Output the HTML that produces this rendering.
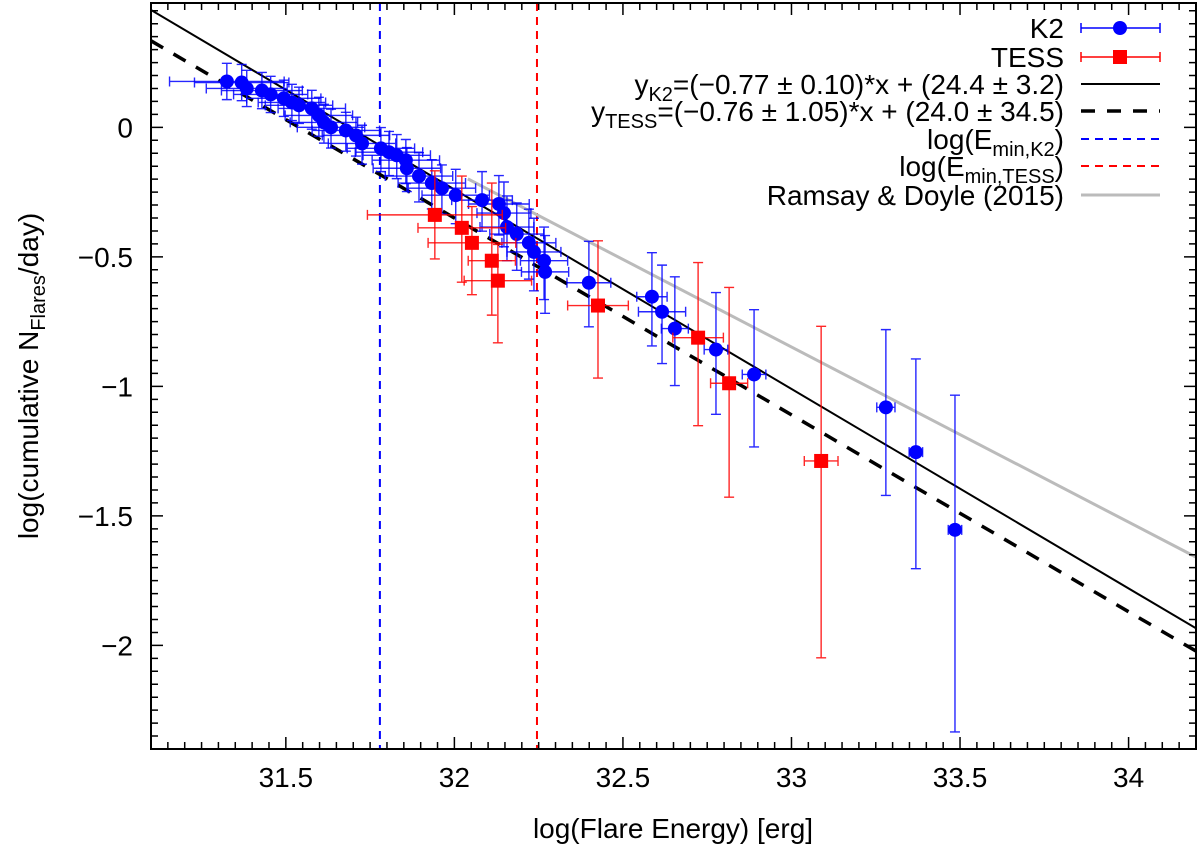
<!DOCTYPE html>
<html><head><meta charset="utf-8"><style>
html,body{margin:0;padding:0;background:#fff;}
svg{display:block;font-family:"Liberation Sans",Arial,sans-serif;}
</style></head><body>
<svg id="chart" width="1200" height="850" viewBox="0 0 1200 850" xmlns="http://www.w3.org/2000/svg">
<defs><clipPath id="clip"><rect x="151" y="3" width="1045" height="746"/></clipPath></defs>
<g id="marks" clip-path="url(#clip)"></g>
<g id="axes"></g>
<g id="legend"></g>
</svg>
<script>
const k2x=[31.325,31.369,31.384,31.429,31.455,31.494,31.518,31.539,31.577,31.598,31.613,31.634,31.678,31.708,31.726,31.782,31.806,31.829,31.856,31.859,31.895,31.933,31.963,32.004,32.082,32.132,32.147,32.156,32.185,32.221,32.236,32.266,32.269,32.399,32.586,32.616,32.654,32.776,32.889,33.280,33.369,33.485];
const k2y=[0.177,0.173,0.150,0.142,0.127,0.112,0.096,0.085,0.073,0.046,0.019,0.000,-0.012,-0.031,-0.062,-0.081,-0.096,-0.108,-0.127,-0.158,-0.188,-0.215,-0.235,-0.262,-0.281,-0.296,-0.331,-0.385,-0.412,-0.446,-0.481,-0.515,-0.558,-0.600,-0.654,-0.712,-0.777,-0.858,-0.954,-1.081,-1.254,-1.554];
const k2xerr=[0.17,0.14,0.12,0.12,0.11,0.11,0.1,0.1,0.1,0.1,0.1,0.1,0.1,0.1,0.1,0.1,0.1,0.1,0.1,0.1,0.1,0.1,0.1,0.1,0.09,0.09,0.08,0.08,0.08,0.08,0.08,0.07,0.07,0.065,0.045,0.07,0.04,0.035,0.035,0.027,0.02,0.02];
const k2ylo=[0.07,0.07,0.07,0.07,0.07,0.07,0.07,0.07,0.08,0.08,0.08,0.08,0.08,0.08,0.08,0.09,0.09,0.09,0.09,0.09,0.1,0.1,0.1,0.11,0.12,0.12,0.13,0.13,0.14,0.14,0.15,0.15,0.16,0.17,0.19,0.2,0.22,0.25,0.28,0.34,0.45,0.78];
const k2yhi=[0.07,0.07,0.07,0.07,0.07,0.07,0.07,0.07,0.07,0.07,0.07,0.07,0.07,0.07,0.07,0.08,0.08,0.08,0.08,0.08,0.09,0.09,0.09,0.1,0.11,0.11,0.12,0.12,0.12,0.13,0.13,0.13,0.14,0.16,0.17,0.18,0.2,0.22,0.25,0.3,0.36,0.52];
const tsx=[31.942,32.022,32.052,32.111,32.129,32.426,32.723,32.815,33.088];
const tsy=[-0.338,-0.388,-0.446,-0.515,-0.592,-0.688,-0.812,-0.988,-1.288];
const tsxerr=[0.2,0.13,0.13,0.07,0.1,0.09,0.075,0.055,0.05];
const tsylo=[0.17,0.21,0.2,0.21,0.24,0.28,0.34,0.44,0.76];
const tsyhi=[0.17,0.2,0.14,0.3,0.14,0.25,0.29,0.37,0.52];
const fitK2=[-0.77,24.4];
const fitTESS=[-0.76,23.97];
const ramsay=[-0.676,21.46,32.04];
const eminK2=31.779, eminTESS=32.245;
const xTicks=[31.5,32,32.5,33,33.5,34];
const xTickLabels=["31.5","32","32.5","33","33.5","34"];
const yTicks=[0,-0.5,-1,-1.5,-2];
const yTickLabels=["0","\u22120.5","\u22121","\u22121.5","\u22122"];

const L=151,R=1196,T=3,B=749,X0=31.1,X1=34.2,Y0=-2.4,Y1=0.48;
const sx=v=>L+(v-X0)/(X1-X0)*(R-L);
const sy=v=>B-(v-Y0)/(Y1-Y0)*(B-T);
const NS="http://www.w3.org/2000/svg";
function mk(parent,tag,attrs,text){const e=document.createElementNS(NS,tag);for(const k in attrs)e.setAttribute(k,attrs[k]);if(text!==undefined)e.textContent=text;parent.appendChild(e);return e;}
const marks=document.getElementById('marks'),axes=document.getElementById('axes'),legend=document.getElementById('legend');

let l=mk(marks,'line',{x1:sx(eminK2),x2:sx(eminK2),y1:T,y2:B,stroke:'#0000ff','stroke-width':2,'stroke-dasharray':'8,6'});


l=mk(marks,'line',{x1:sx(eminTESS),x2:sx(eminTESS),y1:T,y2:B,stroke:'#ff0000','stroke-width':2,'stroke-dasharray':'8,6'});


l=mk(marks,'line',{x1:sx(ramsay[2]),y1:sy(ramsay[0]*ramsay[2]+ramsay[1]),x2:sx(X1),y2:sy(ramsay[0]*X1+ramsay[1]),stroke:'#bbbbbb','stroke-width':3});


l=mk(marks,'line',{x1:sx(X0),y1:sy(fitK2[0]*X0+fitK2[1]),x2:sx(X1),y2:sy(fitK2[0]*X1+fitK2[1]),stroke:'#000','stroke-width':2});


l=mk(marks,'line',{x1:sx(X0),y1:sy(fitTESS[0]*X0+fitTESS[1]),x2:sx(X1),y2:sy(fitTESS[0]*X1+fitTESS[1]),stroke:'#000','stroke-width':3.5,'stroke-dasharray':'14,12'});



function errbar(g,x,y,xe,ylo,yhi,col){
  const cx=sx(x),cy=sy(y),a=sx(x-xe),b=sx(x+xe),t=sy(y+yhi),u=sy(y-ylo);
  mk(g,'path',{d:`M${a},${cy}H${b}M${a},${cy-5}V${cy+5}M${b},${cy-5}V${cy+5}M${cx},${t}V${u}M${cx-5},${t}H${cx+5}M${cx-5},${u}H${cx+5}`,stroke:col,'stroke-width':1.4,fill:'none','stroke-opacity':0.85});
}
for(let i=0;i<k2x.length;i++){
  const g=mk(marks,'g',{});
  
  
  errbar(g,k2x[i],k2y[i],k2xerr[i],k2ylo[i],k2yhi[i],'#0000ff');
  mk(g,'circle',{cx:sx(k2x[i]),cy:sy(k2y[i]),r:7,fill:'#0000ff'});
}
for(let i=0;i<tsx.length;i++){
  const g=mk(marks,'g',{});
  
  
  errbar(g,tsx[i],tsy[i],tsxerr[i],tsylo[i],tsyhi[i],'#ff0000');
  mk(g,'rect',{x:sx(tsx[i])-7,y:sy(tsy[i])-7,width:14,height:14,fill:'#ff0000'});
}

let d='';
for(let v=31.15;v<34.2;v+=0.05){const x=sx(v);const major=Math.abs(v*2-Math.round(v*2))<1e-6;const len=major?12:7;d+=`M${x},${B}V${B-len}M${x},${T}V${T+len}`;}
for(let v=-2.35;v<0.48;v+=0.05){const y=sy(v);const major=Math.abs(v*2-Math.round(v*2))<1e-6;const len=major?12:7;d+=`M${L},${y}H${L+len}M${R},${y}H${R-len}`;}
let p=mk(axes,'path',{d:d,stroke:'#000','stroke-width':1.5,fill:'none'});


let fr=mk(axes,'rect',{x:L,y:T,width:R-L,height:B-T,fill:'none',stroke:'#000','stroke-width':2});


xTicks.forEach((v,i)=>{const t=mk(axes,'text',{x:sx(v),y:787,'font-size':28,'text-anchor':'middle'},xTickLabels[i]);

});
yTicks.forEach((v,i)=>{const t=mk(axes,'text',{x:133,y:sy(v)+10,'font-size':28,'text-anchor':'end'},yTickLabels[i]);

});
let xt=mk(axes,'text',{x:673,y:838,'font-size':28,'text-anchor':'middle'},'log(Flare Energy) [erg]');


let yt=mk(axes,'text',{x:0,y:0,'font-size':28,'text-anchor':'middle',transform:'translate(38,376) rotate(-90)'});


yt.innerHTML='log(cumulative N<tspan font-size="20" dy="7">Flares</tspan><tspan dy="-7">/day)</tspan>';

const rows=[28,57,84,111,139,166,195];
const TX=1064,S0=1081,S1=1160;
function ltext(y,html,name){const t=mk(legend,'text',{x:TX,y:y+10,'font-size':28,'text-anchor':'end'});t.innerHTML=html;

}
ltext(rows[0],'K2','legend-k2-label');
ltext(rows[1],'TESS','legend-tess-label');
ltext(rows[2],'y<tspan font-size="20" dy="7">K2</tspan><tspan dy="-7">=(−0.77 ± 0.10)*x + (24.4 ± 3.2)</tspan>','legend-k2-fit-label');
ltext(rows[3],'y<tspan font-size="20" dy="7">TESS</tspan><tspan dy="-7">=(−0.76 ± 1.05)*x + (24.0 ± 34.5)</tspan>','legend-tess-fit-label');
ltext(rows[4],'log(E<tspan font-size="20" dy="7">min,K2</tspan><tspan dy="-7">)</tspan>','legend-emin-k2-label');
ltext(rows[5],'log(E<tspan font-size="20" dy="7">min,TESS</tspan><tspan dy="-7">)</tspan>','legend-emin-tess-label');
ltext(rows[6],'Ramsay &amp; Doyle (2015)','legend-ramsay-label');
let lg=mk(legend,'g',{});


mk(lg,'path',{d:`M${S0},${rows[0]}H${S1}M${S0},${rows[0]-5}V${rows[0]+5}M${S1},${rows[0]-5}V${rows[0]+5}`,stroke:'#0000ff','stroke-width':1.5});
mk(lg,'circle',{cx:1120,cy:rows[0],r:7,fill:'#0000ff'});
lg=mk(legend,'g',{});


mk(lg,'path',{d:`M${S0},${rows[1]}H${S1}M${S0},${rows[1]-5}V${rows[1]+5}M${S1},${rows[1]-5}V${rows[1]+5}`,stroke:'#ff0000','stroke-width':1.5});
mk(lg,'rect',{x:1113,y:rows[1]-7,width:14,height:14,fill:'#ff0000'});
const samples=[[2,'#000',2,''],[3,'#000',3.5,'14,12'],[4,'#0000ff',2,'8,6'],[5,'#ff0000',2,'8,6'],[6,'#bbbbbb',3,'']];
samples.forEach(s=>{const e=mk(legend,'line',{x1:S0,x2:S1,y1:rows[s[0]],y2:rows[s[0]],stroke:s[1],'stroke-width':s[2],'stroke-dasharray':s[3]||'none'});

});
</script>
</body></html>
